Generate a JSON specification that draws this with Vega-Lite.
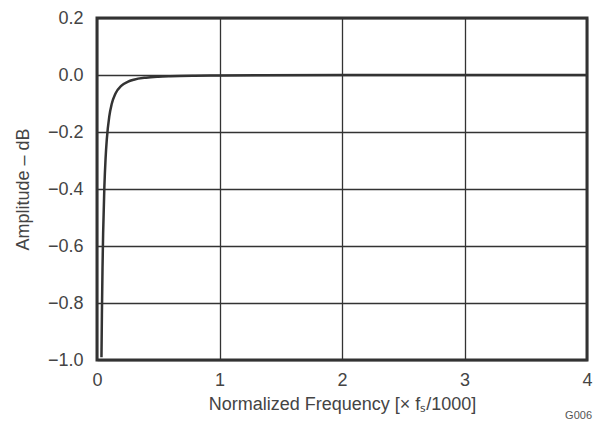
{
  "$schema": "https://vega.github.io/schema/vega-lite/v6.json",
  "autosize": {"type": "none"},
  "padding": {"left": 97, "top": 18, "right": 15, "bottom": 61},
  "width": 490,
  "height": 342,
  "background": "white",
  "config": {
    "view": {"stroke": "#333333", "strokeWidth": 3},
    "axis": {"labelFont": "Liberation Sans", "titleFont": "Liberation Sans", "labelColor": "#444444", "titleColor": "#444444", "labelFontSize": 18, "titleFontSize": 18, "titleFontWeight": "normal", "gridColor": "#333333", "gridWidth": 1.3, "gridOpacity": 1, "domain": false, "ticks": false}
  },
  "title": {"text": "G006", "orient": "bottom", "anchor": "end", "fontSize": 11, "fontWeight": "normal", "font": "Liberation Sans", "color": "#555555", "offset": -3},
  "data": {"values": [
    {"f": 0.0365, "db": -0.99},
    {"f": 0.04, "db": -0.842},
    {"f": 0.045, "db": -0.678},
    {"f": 0.05, "db": -0.557},
    {"f": 0.06, "db": -0.394},
    {"f": 0.07, "db": -0.293},
    {"f": 0.08, "db": -0.226},
    {"f": 0.1, "db": -0.146},
    {"f": 0.12, "db": -0.102},
    {"f": 0.15, "db": -0.066},
    {"f": 0.2, "db": -0.037},
    {"f": 0.25, "db": -0.024},
    {"f": 0.3, "db": -0.0165},
    {"f": 0.4, "db": -0.0093},
    {"f": 0.5, "db": -0.0059},
    {"f": 0.6, "db": -0.0041},
    {"f": 0.8, "db": -0.0023},
    {"f": 1.0, "db": -0.0015},
    {"f": 2.0, "db": -0.0004},
    {"f": 4.0, "db": -0.0001}
  ]},
  "mark": {"type": "line", "color": "#333333", "strokeWidth": 2.5, "interpolate": "monotone", "clip": true},
  "encoding": {
    "x": {"field": "f", "type": "quantitative", "scale": {"domain": [0, 4], "nice": false}, "axis": {"values": [0, 1, 2, 3, 4], "format": "d", "labelPadding": 11, "title": "Normalized Frequency  [× fₛ/1000]", "titlePadding": 6, "labelFlush": false}},
    "y": {"field": "db", "type": "quantitative", "scale": {"domain": [-1.0, 0.2], "nice": false}, "axis": {"values": [-1.0, -0.8, -0.6, -0.4, -0.2, 0.0, 0.2], "format": ".1f", "labelPadding": 14, "title": "Amplitude – dB", "titlePadding": 15, "labelFlush": false}}
  }
}
